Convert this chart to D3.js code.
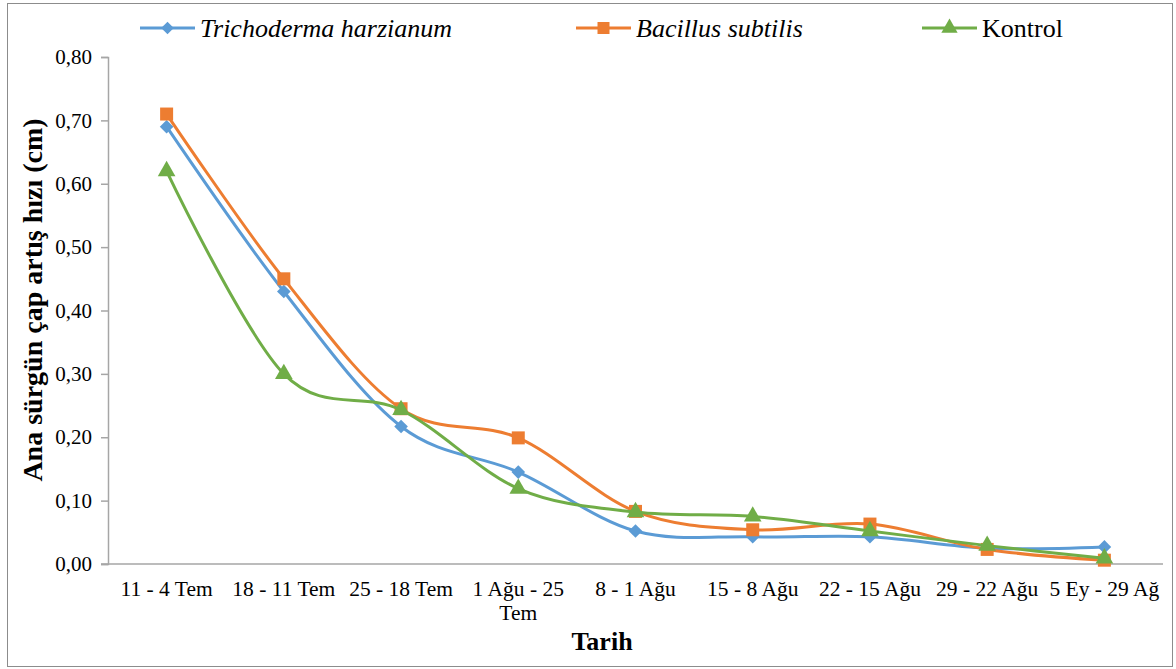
<!DOCTYPE html>
<html>
<head>
<meta charset="utf-8">
<script src="https://cdn.jsdelivr.net/npm/d3@7"></script>
<style>
  body { margin: 0; background: #fff; }
</style>
</head>
<body>
<div id="chart"></div>
<script>
const categories = ["11 - 4 Tem", "18 - 11 Tem", "25 - 18 Tem", "1 Ağu - 25 Tem", "8 - 1 Ağu",
                    "15 - 8 Ağu", "22 - 15 Ağu", "29 - 22 Ağu", "5 Ey - 29 Ağ"];
const trichoderma = [0.69, 0.43, 0.217, 0.145, 0.052, 0.043, 0.043, 0.025, 0.027];
const bacillus    = [0.71, 0.45, 0.245, 0.199, 0.083, 0.054, 0.063, 0.023, 0.006];
const kontrol     = [0.62, 0.30, 0.243, 0.119, 0.082, 0.075, 0.052, 0.029, 0.009];
const yTicks = [0, 0.1, 0.2, 0.3, 0.4, 0.5, 0.6, 0.7, 0.8];
const seriesNames = ["Trichoderma harzianum", "Bacillus subtilis", "Kontrol"];

const width = 1176, height = 669;
const margin = ({top: 57, right: 13, bottom: 105, left: 108});
const serif = "'Liberation Serif', 'Times New Roman', serif";

const series = [
  {name: seriesNames[0], values: trichoderma, color: "#5B9BD5", marker: "diamond", italic: true},
  {name: seriesNames[1], values: bacillus, color: "#ED7D31", marker: "square", italic: true},
  {name: seriesNames[2], values: kontrol, color: "#70AD47", marker: "triangle", italic: false}
];

const x = d3.scaleBand()
    .domain(categories)
    .range([margin.left, width - margin.right]);
const y = d3.scaleLinear()
    .domain([0, 0.8])
    .range([height - margin.bottom, margin.top]);

const cx = d => x(d) + x.bandwidth() / 2;
const fmt = d => d3.format(".2f")(d).replace(".", ",");

function markerPath(type, s) {
  if (type === "square") return d3.symbol(d3.symbolSquare, s * s)();
  if (type === "triangle") return d3.symbol(d3.symbolTriangle, s * s * 0.8)();
  return d3.symbol(d3.symbolSquare, s * s * 0.55)();
}

const svg = d3.select("#chart").append("svg")
    .attr("width", width).attr("height", height)
    .style("font-family", serif);

// chart border
svg.append("rect")
    .attr("x", 7.5).attr("y", 3.5)
    .attr("width", 1165).attr("height", 663)
    .attr("fill", "none").attr("stroke", "#8c8c8c").attr("stroke-width", 1);

// y axis
const yAxis = d3.axisLeft(y).tickValues(yTicks).tickFormat(fmt).tickSize(7).tickPadding(9);
const gy = svg.append("g")
    .attr("transform", `translate(${margin.left},0)`)
    .call(yAxis);
gy.select(".domain").attr("stroke", "#a6a6a6").attr("stroke-width", 1.5);
gy.selectAll(".tick line").attr("stroke", "#a6a6a6").attr("stroke-width", 1.5);
gy.selectAll(".tick text")
    .style("font-family", serif).style("font-size", "21px").attr("fill", "#000");

// x axis
const xAxis = d3.axisBottom(x).tickSize(0).tickPadding(17).tickSizeOuter(0);
const gx = svg.append("g")
    .attr("transform", `translate(0,${height - margin.bottom})`)
    .call(xAxis);
gx.select(".domain").attr("stroke", "#a6a6a6").attr("stroke-width", 1.5)
    .attr("d", `M${margin.left - 7},0H${width - margin.right}`);
gx.selectAll(".tick text")
    .style("font-family", serif).style("font-size", "21.5px").attr("fill", "#000")
    .each(function(d) {
      const t = d3.select(this);
      if (this.getComputedTextLength() > x.step() + 6) {
        const words = d.split(" ");
        const first = words.slice(0, words.length - 1).join(" ");
        const last = words[words.length - 1];
        t.text(null);
        t.append("tspan").attr("x", 0).attr("dy", "0.71em").text(first);
        t.append("tspan").attr("x", 0).attr("dy", "1.1em").text(last);
        t.attr("dy", null);
      }
    });

// axis titles
svg.append("text")
    .attr("transform", "translate(42,300) rotate(-90)")
    .attr("text-anchor", "middle")
    .style("font-family", serif).style("font-size", "28px").style("font-weight", "bold")
    .text("Ana sürgün çap artış hızı (cm)");

svg.append("text")
    .attr("x", 602).attr("y", 650)
    .attr("text-anchor", "middle")
    .style("font-family", serif).style("font-size", "26px").style("font-weight", "bold")
    .text("Tarih");

// lines
const line = d3.line()
    .x((d, i) => cx(categories[i]))
    .y(d => y(d))
    .curve(d3.curveCardinal.tension(0));

const gs = svg.append("g").selectAll("g").data(series).join("g");
gs.append("path")
    .attr("d", d => line(d.values))
    .attr("fill", "none")
    .attr("stroke", d => d.color)
    .attr("stroke-width", 3);
gs.each(function(s) {
  d3.select(this).selectAll(".pt").data(s.values).join("path")
    .attr("class", "pt")
    .attr("transform", (d, i) => `translate(${cx(categories[i])},${y(d)})` + (s.marker === "diamond" ? " rotate(45)" : ""))
    .attr("d", markerPath(s.marker, 13))
    .attr("fill", s.color);
});

// legend
const legendX = [140, 576, 922];
const lg = svg.append("g").selectAll("g").data(series).join("g")
    .attr("transform", (d, i) => `translate(${legendX[i]},28)`);
lg.append("line")
    .attr("x1", 0).attr("x2", 55).attr("y1", 0).attr("y2", 0)
    .attr("stroke", d => d.color).attr("stroke-width", 3);
lg.append("path")
    .attr("transform", d => "translate(27.5,0)" + (d.marker === "diamond" ? " rotate(45)" : ""))
    .attr("d", d => markerPath(d.marker, 12))
    .attr("fill", d => d.color);
lg.append("text")
    .attr("x", 60).attr("y", 0).attr("dy", "0.35em")
    .style("font-family", serif).style("font-size", "26px")
    .style("font-style", d => d.italic ? "italic" : "normal")
    .text(d => d.name);
</script>
</body>
</html>
